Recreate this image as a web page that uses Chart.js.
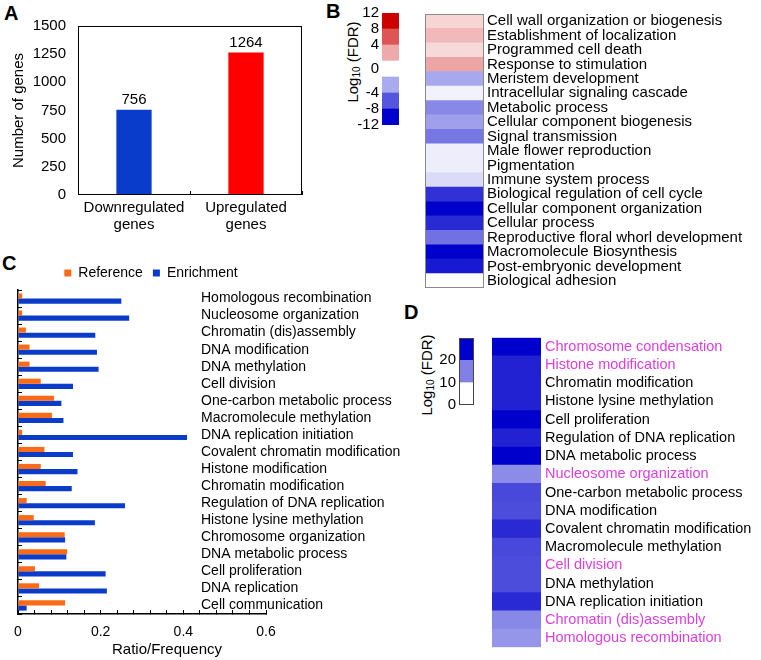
<!DOCTYPE html>
<html>
<head>
<meta charset="utf-8">
<script src="https://cdn.jsdelivr.net/npm/chart.js@4"></script>
<style>
  body { margin: 0; width: 761px; height: 660px; background: #fff; position: relative; overflow: hidden;
         font-family: "Liberation Sans", Arial, sans-serif; color: #000; }
  canvas { position: absolute; }
  .letter { position: absolute; font-weight: bold; font-size: 20px; line-height: 20px; }
  .vtitle { position: absolute; font-size: 15px; white-space: nowrap; transform: translate(-50%, -50%) rotate(-90deg); }
  .vtitle sub { font-size: 10px; vertical-align: -2px; }
</style>
</head>
<body>
<div class="letter" style="left:4px;top:3px">A</div>
<div class="letter" style="left:326px;top:1px">B</div>
<div class="letter" style="left:2px;top:253px">C</div>
<div class="letter" style="left:404px;top:302px">D</div>
<div class="vtitle" style="left:353px;top:62px">Log<sub>10</sub> (FDR)</div>
<div class="vtitle" style="left:427px;top:375px">Log<sub>10</sub> (FDR)</div>

<canvas id="chartA" width="310" height="240" style="left:0;top:0"></canvas>
<canvas id="barB" width="75" height="140" style="left:330px;top:0"></canvas>
<canvas id="heatB" width="342" height="300" style="left:419px;top:0"></canvas>
<canvas id="chartC" width="400" height="410" style="left:0;top:250px"></canvas>
<canvas id="barD" width="50" height="100" style="left:430px;top:325px"></canvas>
<canvas id="heatD" width="275" height="335" style="left:486px;top:325px"></canvas>

<script>
// ---- A: number of DEGs
const aCategories = [["Downregulated", "genes"], ["Upregulated", "genes"]];
const aCounts = [756, 1264];
const aColors = ["#0A3CCB", "#FF0000"];

// ---- B: GO terms, log10(FDR) (+ = up, - = down)
const bTerms = [
  "Cell wall organization or biogenesis", "Establishment of localization", "Programmed cell death",
  "Response to stimulation", "Meristem development", "Intracellular signaling cascade",
  "Metabolic process", "Cellular component biogenesis", "Signal transmission",
  "Male flower reproduction", "Pigmentation", "Immune system process",
  "Biological regulation of cell cycle", "Cellular component organization", "Cellular process",
  "Reproductive floral whorl development", "Macromolecule Biosynthesis", "Post-embryonic development",
  "Biological adhesion"
];
const bLogFdr = [2.0, 3.3, 1.8, 4.3, -4.1, -0.6, -5.6, -4.5, -6.4, -0.85, -0.85, -1.7, -9.7, -12, -10, -6.7, -12, -10.8, 0];
const bBandValues = [-12, -8, -4, 0, 4, 8, 12];        // colour bar bands, bottom to top
const bScalePos = [0, 1, 2, 3.5, 5, 6, 7];
const bScaleLabels = ["-12", "-8", "-4", "0", "4", "8", "12"];

// ---- C: reference vs enrichment ratio
const cTerms = [
  "Homologous recombination", "Nucleosome organization", "Chromatin (dis)assembly", "DNA modification",
  "DNA methylation", "Cell division", "One-carbon metabolic process", "Macromolecule methylation",
  "DNA replication initiation", "Covalent chromatin modification", "Histone modification",
  "Chromatin modification", "Regulation of DNA replication", "Histone lysine methylation",
  "Chromosome organization", "DNA metabolic process", "Cell proliferation", "DNA replication",
  "Cell communication"
];
const cReference = [0.010, 0.010, 0.019, 0.028, 0.028, 0.055, 0.087, 0.082, 0.010, 0.064, 0.055, 0.067, 0.021, 0.038, 0.113, 0.119, 0.041, 0.051, 0.114];
const cEnrichment = [0.250, 0.269, 0.187, 0.191, 0.195, 0.133, 0.105, 0.110, 0.409, 0.133, 0.144, 0.130, 0.259, 0.186, 0.114, 0.117, 0.212, 0.215, 0.021];

// ---- D: enriched terms, log10(FDR)
const dTerms = [
  "Chromosome condensation", "Histone modification", "Chromatin modification", "Histone lysine methylation",
  "Cell proliferation", "Regulation of DNA replication", "DNA metabolic process", "Nucleosome organization",
  "One-carbon metabolic process", "DNA modification", "Covalent chromatin modification",
  "Macromolecule methylation", "Cell division", "DNA methylation", "DNA replication initiation",
  "Chromatin (dis)assembly", "Homologous recombination"
];
const dLogFdr = [30, 26, 26, 26, 30, 26, 30, 13.5, 21.5, 21, 25, 21.5, 21, 21, 25, 14, 12.5];
const dHighlight = ["Chromosome condensation", "Histone modification", "Nucleosome organization",
  "Cell division", "Chromatin (dis)assembly", "Homologous recombination"];
const dBandValues = [0, 15, 30];
const dScaleTicks = [0, 10, 20];

Chart.defaults.font.family = '"Liberation Sans", Arial, sans-serif';
Chart.defaults.color = "#000";

function shade(t, hue) {
  t = Math.max(0, Math.min(1, t));
  const lo = Math.round(255 * (1 - t));
  const hi = Math.round(255 - 51 * t);
  return hue === "red" ? `rgb(${hi},${lo},${lo})` : `rgb(${lo},${lo},${hi})`;
}
const bColor = v => v >= 0 ? shade(v / 12, "red") : shade(-v / 12, "blue");
const dColor = v => shade(v / 30, "blue");

const frame = {
  id: "frame",
  afterDatasetsDraw(chart, args, opts) {
    const { ctx, chartArea: a } = chart;
    ctx.save();
    ctx.strokeStyle = opts.color;
    ctx.lineWidth = opts.width;
    ctx.strokeRect(a.left + 0.5, a.top + 0.5, a.right - a.left - 1, a.bottom - a.top - 1);
    ctx.restore();
  }
};

const barValues = {
  id: "barValues",
  afterDatasetsDraw(chart) {
    const ctx = chart.ctx;
    const ds = chart.data.datasets[0];
    ctx.save();
    ctx.font = '15px "Liberation Sans", Arial, sans-serif';
    ctx.fillStyle = "#000";
    ctx.textAlign = "center";
    chart.getDatasetMeta(0).data.forEach((bar, i) => ctx.fillText(ds.data[i], bar.x, bar.y - 6));
    ctx.restore();
  }
};

const shiftedTitle = {
  id: "shiftedTitle",
  afterDraw(chart, args, opts) {
    const ctx = chart.ctx, a = chart.chartArea;
    ctx.save();
    ctx.font = '15px "Liberation Sans", Arial, sans-serif';
    ctx.fillStyle = "#000";
    ctx.textAlign = "center";
    ctx.textBaseline = "middle";
    ctx.fillText(opts.text, (a.left + a.right) / 2 + opts.shift, chart.scales.x.top + opts.offset);
    ctx.restore();
  }
};

// A
new Chart(document.getElementById("chartA"), {
  type: "bar",
  data: {
    labels: aCategories,
    datasets: [{ data: aCounts, backgroundColor: aColors, categoryPercentage: 1, barPercentage: 0.315 }]
  },
  options: {
    responsive: false, animation: false,
    layout: { padding: { top: 26, right: 8, left: 0, bottom: 0 } },
    plugins: { legend: { display: false }, tooltip: { enabled: false }, frame: { color: "#000", width: 1 } },
    scales: {
      x: {
        grid: { drawOnChartArea: false, tickLength: -4, color: "#000", offset: true },
        border: { display: false },
        ticks: { padding: 8, maxRotation: 0, autoSkip: false, font: { size: 15, lineHeight: 1.15 } },
        afterFit: s => { s.height = 45; }
      },
      y: {
        min: 0, max: 1500,
        ticks: { stepSize: 250, padding: 12, font: { size: 15 }, callback: v => String(v) },
        grid: { display: false, drawTicks: false },
        border: { display: false },
        title: { display: true, text: "Number of genes", font: { size: 15 }, padding: { top: 10, bottom: 0 } },
        afterFit: s => { s.width = 78; }
      }
    }
  },
  plugins: [frame, barValues]
});

// B colour bar
new Chart(document.getElementById("barB"), {
  type: "bar",
  data: {
    labels: [""],
    datasets: bBandValues.map(v => ({ data: [1], backgroundColor: bColor(v), categoryPercentage: 1, barPercentage: 1 }))
  },
  options: {
    responsive: false, animation: false,
    layout: { padding: { top: 13, right: 6, bottom: 15, left: 0 } },
    plugins: { legend: { display: false }, tooltip: { enabled: false } },
    scales: {
      x: { display: false, stacked: true },
      y: {
        stacked: true, min: 0, max: 7,
        afterBuildTicks: s => { s.ticks = bScalePos.map(v => ({ value: v })); },
        ticks: { callback: (v, i) => bScaleLabels[i], padding: 3, autoSkip: false, font: { size: 15 } },
        grid: { display: false, drawTicks: false },
        border: { display: false },
        afterFit: s => { s.width = 52; }
      }
    }
  }
});

// B heatmap
new Chart(document.getElementById("heatB"), {
  type: "bar",
  data: {
    labels: bTerms,
    datasets: [{ data: bTerms.map(() => 1), backgroundColor: bLogFdr.map(bColor), categoryPercentage: 1, barPercentage: 1 }]
  },
  options: {
    indexAxis: "y", responsive: false, animation: false,
    layout: { padding: { top: 14, right: 0, bottom: 12, left: 6 } },
    plugins: { legend: { display: false }, tooltip: { enabled: false }, frame: { color: "#8a8a8a", width: 1 } },
    scales: {
      x: { display: false, min: 0, max: 1 },
      y: {
        position: "right",
        grid: { display: false, drawTicks: false },
        border: { display: false },
        ticks: { padding: 3, autoSkip: false, font: { size: 15 } },
        afterFit: s => { s.width = 277; }
      }
    }
  },
  plugins: [frame]
});

// C
new Chart(document.getElementById("chartC"), {
  type: "bar",
  data: {
    labels: cTerms,
    datasets: [
      { label: "Reference", data: cReference, backgroundColor: "#F96B18" },
      { label: "Enrichment", data: cEnrichment, backgroundColor: "#0B3BC9" }
    ]
  },
  options: {
    indexAxis: "y", responsive: false, animation: false,
    datasets: { bar: { categoryPercentage: 0.6, barPercentage: 1 } },
    layout: { padding: { top: 6, right: 98, bottom: 0, left: 0 } },
    plugins: {
      legend: { position: "top", labels: { boxWidth: 7, boxHeight: 7, padding: 10, font: { size: 14 } } },
      tooltip: { enabled: false },
      shiftedTitle: { text: "Ratio/Frequency", shift: 25, offset: 36 }
    },
    scales: {
      x: {
        min: 0, max: 0.6,
        ticks: {
          stepSize: 0.04, autoSkip: false, maxRotation: 0, padding: 14, font: { size: 14 },
          callback: v => Math.round(v / 0.04) % 5 === 0 ? String(Math.round(v * 10) / 10) : ""
        },
        grid: { drawOnChartArea: false, tickLength: -4, color: "#000" },
        border: { color: "#000", width: 1.5 },
        afterFit: s => { s.height = 46; }
      },
      y: {
        position: "left",
        // labels mirrored into the plot so they sit at the right of the bars
        ticks: { mirror: true, padding: 183, autoSkip: false, font: { size: 14 } },
        grid: { drawOnChartArea: false, tickLength: -4, color: "#000", offset: true },
        border: { color: "#000", width: 1.5 },
        afterFit: s => { s.width = 18; s.paddingTop = 0; s.paddingBottom = 0; }
      },
      yr: {
        type: "category", position: "right", offset: true,
        grid: { display: false, drawTicks: false },
        border: { display: false },
        ticks: { display: false },
        afterFit: s => { s.width = 36; s.paddingTop = 0; s.paddingBottom = 0; }
      }
    }
  },
  plugins: [shiftedTitle]
});

// D colour bar
new Chart(document.getElementById("barD"), {
  type: "bar",
  data: {
    labels: [""],
    datasets: dBandValues.map(v => ({ data: [10], backgroundColor: dColor(v), categoryPercentage: 1, barPercentage: 1 }))
  },
  options: {
    responsive: false, animation: false,
    layout: { padding: { top: 13, right: 6, bottom: 20, left: 0 } },
    plugins: { legend: { display: false }, tooltip: { enabled: false }, frame: { color: "#444", width: 1 } },
    scales: {
      x: { display: false, stacked: true },
      y: {
        stacked: true, min: 0, max: 30,
        afterBuildTicks: s => { s.ticks = dScaleTicks.map(v => ({ value: v })); },
        ticks: { padding: 3, autoSkip: false, font: { size: 15 } },
        grid: { display: false, drawTicks: false },
        border: { display: false },
        afterFit: s => { s.width = 29; }
      }
    }
  },
  plugins: [frame]
});

// D heatmap
new Chart(document.getElementById("heatD"), {
  type: "bar",
  data: {
    labels: dTerms,
    datasets: [{ data: dTerms.map(() => 1), backgroundColor: dLogFdr.map(dColor), categoryPercentage: 1, barPercentage: 1 }]
  },
  options: {
    indexAxis: "y", responsive: false, animation: false,
    layout: { padding: { top: 12, right: 0, bottom: 7, left: 6 } },
    plugins: { legend: { display: false }, tooltip: { enabled: false } },
    scales: {
      x: { display: false, min: 0, max: 1 },
      y: {
        position: "right",
        grid: { display: false, drawTicks: false },
        border: { display: false },
        ticks: {
          padding: 4, autoSkip: false, font: { size: 14.5 },
          color: c => dHighlight.includes(dTerms[c.index]) ? "#DA3FDA" : "#000"
        },
        afterFit: s => { s.width = 220; }
      }
    }
  }
});
</script>
</body>
</html>
